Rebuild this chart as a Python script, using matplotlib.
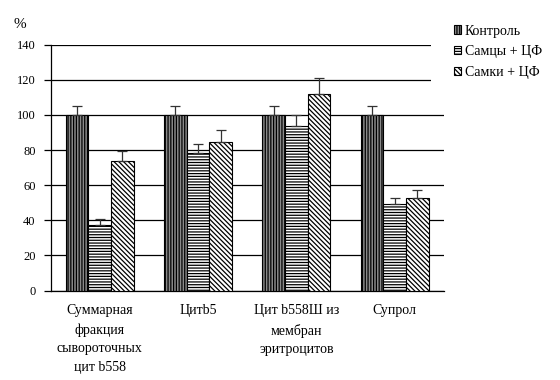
import matplotlib
matplotlib.use("Agg")
import matplotlib.pyplot as plt
from matplotlib.patches import Rectangle
import numpy as np

categories = ["Суммарная\nфракция\nсывороточных\nцит b558", "Цитb5",
              "Цит b558Ш из\nмембран\nэритроцитов", "Супрол"]
series = ["Контроль", "Самцы + ЦФ", "Самки + ЦФ"]
control = [100, 100, 100, 100]
males = [37.5, 78.5, 93.5, 49]
females = [74, 84.3, 112.2, 52.5]
err_control = [5, 5, 5, 5]
err_males = [3, 5, 6.5, 3.5]
err_females = [5.5, 7, 9, 4.5]
yticks = [0, 20, 40, 60, 80, 100, 120, 140]

plt.rcParams['hatch.linewidth'] = 0.9
serif = ['Liberation Serif', 'DejaVu Serif']

fig = plt.figure(figsize=(5.6, 3.8), dpi=100)
ax = fig.add_axes([50.5/560, 1-290.5/380, (444-50.5)/560, (290.5-44.7)/380])

x = np.arange(len(categories))
w = 0.23
styles = [dict(facecolor='#8a8a8a', hatch='||||||'),
          dict(facecolor='white', hatch='------'),
          dict(facecolor='white', hatch='\\\\\\\\\\\\\\')]
data = [control, males, females]
errs = [err_control, err_males, err_females]
for i, (vals, e, st, lab) in enumerate(zip(data, errs, styles, series)):
    pos = x + (i - 1) * w
    ax.bar(pos, vals, width=w, edgecolor='black', linewidth=0.8, label=lab,
           zorder=3, **st)
    ax.errorbar(pos, vals, yerr=[np.zeros(len(vals)), e], fmt='none',
                ecolor='#333333', elinewidth=0.9, capsize=3.5, capthick=0.9, zorder=4)

ax.set_xlim(-0.5, 3.5)
ax.set_ylim(0, 140)
ax.set_yticks(yticks)
ax.set_yticklabels([str(v) for v in yticks], fontsize=9, family=serif)
ax.yaxis.grid(True, color='black', linewidth=0.9, zorder=0)
ax.set_axisbelow(True)
for s in ['top', 'right']:
    ax.spines[s].set_visible(False)
ax.spines['left'].set_linewidth(0.9)
ax.spines['bottom'].set_linewidth(0.9)
ax.tick_params(axis='y', length=4.7, width=0.9, pad=6)
ax.set_xticks(x)
ax.set_xticklabels(categories, fontsize=10, family=serif, linespacing=1.56, va='top')
ax.tick_params(axis='x', length=0, pad=10)

fig.text(14/560, 1-24/380, "%", fontsize=11, family=serif, va='center')

# white legend area covering the upper gridlines on the right
fig.add_artist(Rectangle((431/560, 1-90/380), (560-431)/560, 90/380,
                         transform=fig.transFigure, facecolor='white',
                         edgecolor='none', zorder=2))

leg = fig.legend(loc='upper left', bbox_to_anchor=(448/560, 1-19/380), frameon=False,
                 prop={'family': serif, 'size': 10}, handlelength=0.55, handleheight=0.55,
                 handletextpad=0.25, labelspacing=0.55, borderaxespad=0)
leg.set_zorder(5)

fig.savefig("out.png", dpi=100)
